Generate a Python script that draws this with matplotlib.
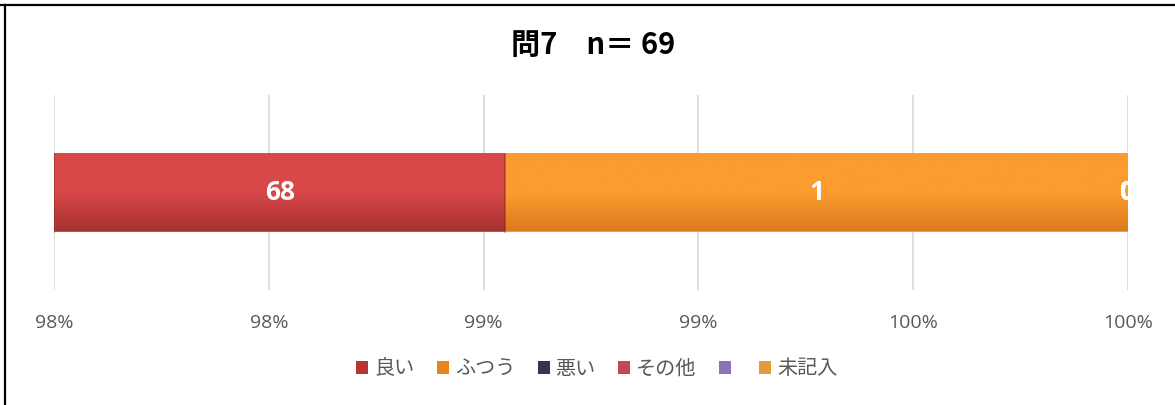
import numpy as np
import matplotlib.pyplot as plt
from matplotlib.colors import LinearSegmentedColormap
from matplotlib.lines import Line2D
from matplotlib.patches import Patch

plt.rcParams['font.family'] = ['Noto Sans CJK JP', 'DejaVu Sans']

#--- Data ---#
categories = ['良い', 'ふつう', '悪い', 'その他', '', '未記入']
counts = [68, 1, 0, 0, 0, 0]
tick_values = [0.975, 0.980, 0.985, 0.990, 0.995, 1.000]
tick_labels = ['98%', '98%', '99%', '99%', '100%', '100%']
title = '問7　n＝ 69'

# bar colours (top, bottom) and legend swatch colours
bar_colors = [('#d94848', '#a83232'), ('#fb9b30', '#dc7a1c'),
              ('#4b3a6b', '#35264f'), ('#c95454', '#9b3636'),
              ('#9f86c4', '#7a61a0'), ('#f3aa4c', '#cf8526')]
legend_colors = ['#b83434', '#e8841e', '#3f2d5c', '#c04c4a', '#8e72b6', '#e59a3c']

n = sum(counts)
fractions = np.array(counts) / n
lefts = np.concatenate([[0], np.cumsum(fractions)[:-1]])

#--- Figure ---#
fig = plt.figure(figsize=(11.75, 4.05), dpi=100)
ax = fig.add_axes([54 / 1175, 1 - 290 / 405, 1074 / 1175, 195 / 405])

xmin, xmax = tick_values[0], tick_values[-1]

bars = ax.barh(0, fractions, left=lefts, height=0.4, color=[c[0] for c in bar_colors],
               edgecolor='none', zorder=2)

# vertical gradient for a bevel-like look (kept inside the visible range)
for rect, (top, bot) in zip(bars, bar_colors):
    x0 = max(rect.get_x(), xmin)
    x1 = min(rect.get_x() + rect.get_width(), xmax)
    if x1 <= x0:
        continue
    cmap = LinearSegmentedColormap.from_list('g', [top, top, bot])
    grad = np.linspace(0, 1, 100).reshape(-1, 1)
    y0 = rect.get_y()
    y1 = y0 + rect.get_height()
    ax.imshow(grad, extent=[x0, x1, y1, y0], cmap=cmap, aspect='auto',
              origin='upper', zorder=3)
    ax.plot([x0, x0], [y0, y1], color='#6e2a10', lw=1.2, alpha=0.5, zorder=4)

ax.set_xlim(xmin, xmax)
ax.set_ylim(0.5, -0.5)

# data labels at the centre of the visible part of each segment
for rect, c in zip(bars, counts):
    x0 = max(rect.get_x(), xmin)
    x1 = min(rect.get_x() + rect.get_width(), xmax)
    xc = (x0 + x1) / 2 if x1 > x0 else rect.get_x()
    ax.text(xc, 0, str(c), color='white', fontsize=19, fontweight='bold',
            ha='center', va='center', zorder=5, clip_on=True,
            family=['Open Sans', 'DejaVu Sans'])

ax.set_xticks(tick_values)
ax.set_xticklabels(tick_labels, color='#595959', fontsize=14,
                   family=['Open Sans', 'DejaVu Sans'])
ax.tick_params(axis='x', length=0, pad=17)
ax.set_yticks([])
ax.grid(axis='x', color='#d9d9d9', lw=1.2, zorder=0)
ax.set_axisbelow(True)
for s in ax.spines.values():
    s.set_visible(False)

fig.text(0.505, 1 - 45 / 405, title, ha='center', va='center',
         fontsize=21, fontweight='bold', color='black')

handles = [Patch(facecolor=c, edgecolor='none') for c in legend_colors]
fig.legend(handles, categories, loc='center', bbox_to_anchor=(0.508, 1 - 369 / 405),
           ncol=6, frameon=False, fontsize=14.5, handlelength=0.6, handleheight=0.6,
           handletextpad=0.3, columnspacing=1.1, labelcolor='#595959')

# chart frame (top and left edges visible)
fig.add_artist(Line2D([0, 1], [1 - 4.5 / 405] * 2, color='black', lw=1.6))
fig.add_artist(Line2D([5 / 1175] * 2, [0, 1 - 4.5 / 405], color='black', lw=1.6))

fig.savefig('out.png', dpi=100)
